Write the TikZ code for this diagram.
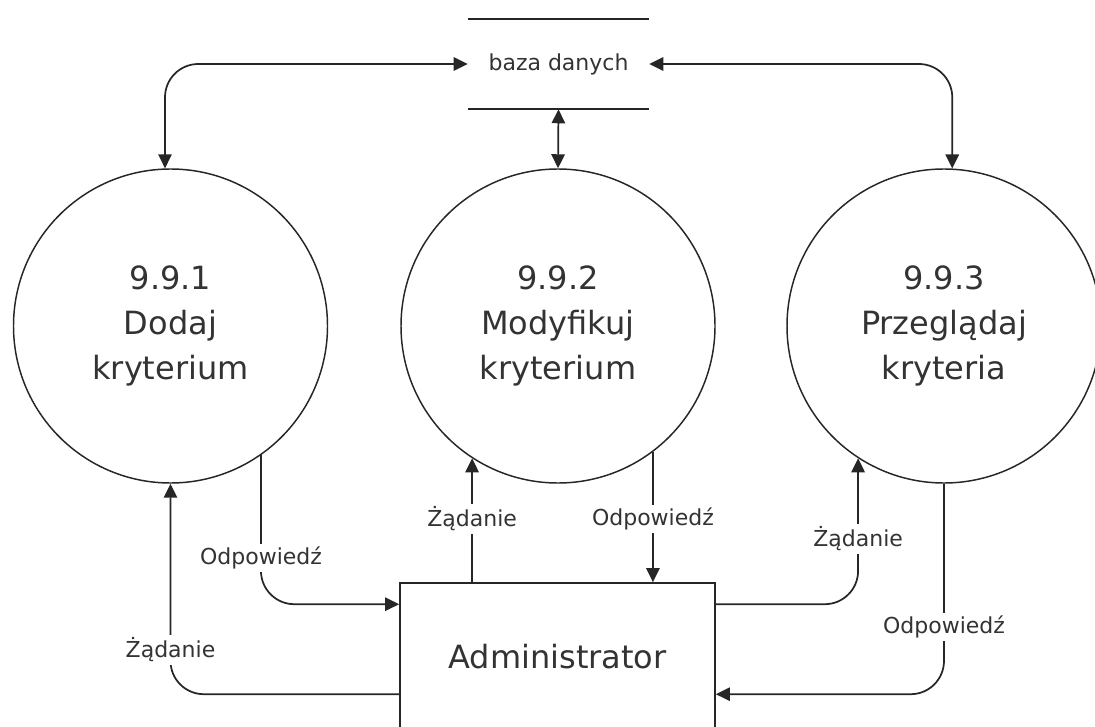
\documentclass[tikz,border=0pt]{standalone}
\usepackage{fontspec}
\setmainfont{DejaVu Sans}
\usetikzlibrary{arrows.meta}
\tikzset{
  proc/.style={circle, draw=black!85, line width=1.1pt, minimum size=235.5pt, inner sep=0pt,
    align=center, font=\fontsize{24}{33.75}\selectfont, text=black!80},
  ent/.style={rectangle, draw=black!85, line width=1.2pt, minimum width=236.25pt, minimum height=111pt,
    inner sep=0pt, font=\fontsize{24}{30}\selectfont, text=black!80},
  store/.style={rectangle, minimum width=135.75pt, minimum height=67.5pt, inner sep=0pt,
    font=\fontsize{16.5}{20}\selectfont, text=black!80},
  flow/.style={line width=1.3pt, draw=black!85, rounded corners=25pt,
    -{Triangle[length=10.5pt,width=10pt]}},
  biflow/.style={line width=1.3pt, draw=black!85, rounded corners=25pt,
    {Triangle[length=10.5pt,width=10pt]}-{Triangle[length=10.5pt,width=10pt]}},
  lbl/.style={fill=white, inner sep=2pt, font=\fontsize{16.5}{20}\selectfont, text=black!80}
}
\begin{document}
\begin{tikzpicture}[x=0.75pt,y=-0.75pt]
\useasboundingbox (0,0) rectangle (1095,727);
\clip (0,0) rectangle (1095,727);
% data store
\node[store] (db) at (558.5,64) {baza danych};
\draw[line width=1.3pt, draw=black!85] (db.north west) -- (db.north east);
\draw[line width=1.3pt, draw=black!85] (db.south west) -- (db.south east);
% processes
\node[proc] (c1) at (170.5,326) {9.9.1\\Dodaj\\kryterium};
\node[proc] (c2) at (558,326) {9.9.2\\Modyfikuj\\kryterium};
\node[proc] (c3) at (944,326) {9.9.3\\Przeglądaj\\kryteria};
% entity
\node[ent] (admin) at (557.5,657) {Administrator};
% store connectors
\draw[biflow] (db.west) -| (c1.92);
\draw[biflow] (db.east) -| (c3.87);
\draw[biflow] (db.south) -- (c2.north);
% process 1
\draw[flow] ([yshift=-84pt]admin.north west) -| (c1.south);
\draw[flow] (c1.-55) |- ([yshift=-16.5pt]admin.north west);
% process 2
\draw[flow] (c2.-123 |- admin.north) -- (c2.-123);
\draw[flow] (c2.-53) -- (c2.-53 |- admin.north);
% process 3
\draw[flow] ([yshift=-16.5pt]admin.north east) -| (c3.-123);
\draw[flow] (c3.south) |- ([yshift=-84pt]admin.north east);
% labels
\node[lbl] (l1) at (c1.south |- 0,650) {Żądanie};
\node[lbl] (l2) at (c1.-55 |- 0,558) {Odpowiedź};
\node[lbl] (l3) at (c2.-123 |- 0,519) {Żądanie};
\node[lbl] (l4) at (c2.-53 |- 0,519) {Odpowiedź};
\node[lbl] (l5) at (c3.-123 |- 0,539) {Żądanie};
\node[lbl] (l6) at (c3.south |- 0,627) {Odpowiedź};
\end{tikzpicture}
\end{document}
